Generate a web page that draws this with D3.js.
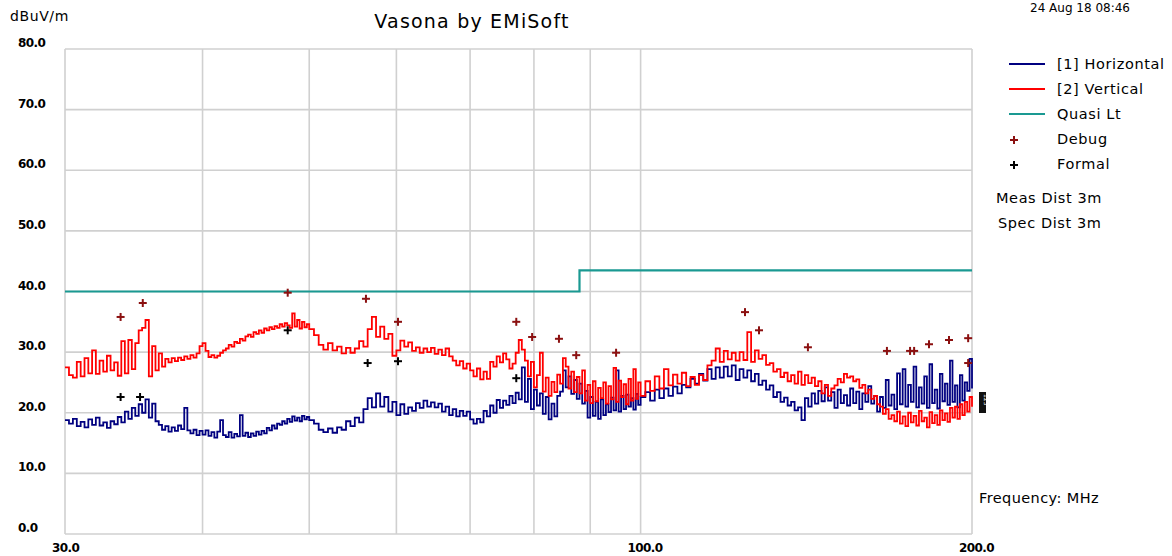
<!DOCTYPE html>
<html>
<head>
<meta charset="utf-8">
<script src="https://cdn.jsdelivr.net/npm/d3@7"></script>
<style>
  body { margin: 0; background: #fff; }
  svg text { font-family: "DejaVu Sans", "Liberation Sans", sans-serif; fill: #000; }
</style>
</head>
<body>
<svg id="chart" width="1172" height="556"></svg>
<script>
// sweep: 30-50 MHz every 0.25, 50.5-100 every 0.5, 101-200 every 1
const sweep = [
  { start: 30, step: 0.25 },
  { start: 50.5, step: 0.5 },
  { start: 101, step: 1 }
];

// [1] Horizontal, dBuV/m
const hLow = [18.8,18.2,19.0,17.8,18.5,17.6,18.9,18.0,19.2,17.9,18.4,17.5,18.6,18.1,19.3,18.4,20.2,19.0,20.8,19.5,
  21.4,20.0,22.2,19.2,21.5,18.6,18.0,17.2,17.8,16.9,17.6,17.0,17.9,17.3,20.8,17.1,16.6,17.2,16.3,17.0,
  16.4,17.1,16.2,16.8,15.9,16.9,18.8,16.3,16.0,16.8,15.9,16.5,16.1,19.6,16.2,16.7,16.0,16.6,16.2,16.9,
  16.4,17.0,16.6,17.5,17.1,17.9,17.4,18.2,18.0,18.6,18.2,19.0,18.5,19.4,18.7,19.2,18.6,19.5,18.9,19.3,18.8];
const hMid = [18.2,17.2,16.8,17.4,16.7,17.6,17.2,18.6,17.8,19.2,18.4,20.6,22.4,20.9,23.2,21.0,22.6,20.2,21.8,19.6,
  21.4,19.8,20.9,20.3,21.6,20.8,22.0,21.0,21.7,20.9,21.5,20.2,21.0,19.6,20.6,19.4,20.3,19.5,20.2,18.9,
  18.2,19.0,18.4,20.3,19.4,21.2,20.0,22.1,20.8,22.0,21.3,22.8,21.6,23.3,22.2,27.5,21.8,25.6,20.6,23.8,
  21.2,23.2,19.8,22.6,18.9,21.5,19.4,22.8,23.5,27.0,24.2,26.0,23.1,25.4,22.3,24.8,21.5,23.6,19.2,22.6,
  19.5,21.8,19.0,22.2,19.6,21.4,20.1,22.5,20.4,27.0,20.2,22.8,20.6,23.0,21.0,22.4,20.5,23.1,21.3,22.6];
const hHigh = [23.4,22.0,23.8,22.4,24.0,22.8,24.3,23.2,24.6,24.2,25.6,24.8,26.4,25.3,27.2,25.6,27.5,25.8,27.6,26.0,
  27.8,25.4,27.2,25.8,27.0,25.2,26.4,24.6,25.3,23.8,24.5,22.6,23.4,21.8,22.5,21.2,21.8,20.4,20.9,18.8,
  22.4,21.0,23.2,21.5,23.6,21.9,24.2,22.0,23.4,20.8,23.8,21.6,22.9,21.2,24.0,21.6,23.5,20.6,23.2,21.8,
  24.4,21.5,22.8,20.2,22.6,20.8,25.4,21.2,23.0,20.6,26.5,21.4,27.2,21.0,24.6,21.8,27.6,20.9,24.2,21.5,
  26.0,20.8,28.0,21.6,23.8,20.7,26.4,21.9,24.8,21.3,28.6,21.8,24.5,20.9,26.2,22.0,25.0,23.6,28.9,24.0];

// [2] Vertical, dBuV/m
const vLow = [27.5,26.2,25.8,28.4,26.0,29.0,26.5,30.3,26.4,28.6,26.8,29.4,27.0,28.3,26.1,31.8,26.5,32.0,27.2,31.5,
  33.6,34.0,35.3,26.0,31.0,27.0,29.8,27.6,28.9,28.3,29.0,28.5,29.1,28.7,29.3,28.9,29.5,29.1,29.8,31.0,
  31.5,30.2,29.2,29.5,29.1,29.4,29.9,30.3,30.6,31.2,30.9,31.7,31.5,32.2,31.9,32.6,32.9,32.5,33.3,33.0,
  33.6,33.2,33.9,33.6,34.1,33.8,34.3,34.0,34.6,34.2,34.8,34.4,34.0,36.4,34.2,35.3,33.9,35.0,34.1,34.6,33.8];
const vMid = [32.8,31.2,30.4,31.5,30.3,30.9,29.8,30.7,29.9,30.6,31.8,30.9,33.8,35.8,32.5,34.2,32.2,33.0,29.4,30.3,
  31.9,30.9,31.6,30.2,30.8,29.9,30.6,30.0,30.7,29.7,30.4,29.5,30.6,29.3,28.6,27.8,28.5,27.3,28.1,27.0,
  26.0,27.3,25.5,26.8,25.6,28.4,27.6,29.3,28.3,29.8,28.8,27.3,28.1,29.9,32.0,30.4,28.6,26.0,28.4,24.2,
  26.2,29.9,23.5,25.8,22.8,25.1,23.4,26.3,24.8,29.0,27.6,24.0,26.8,23.4,25.9,23.2,27.0,22.0,24.6,21.6,
  25.2,21.9,24.1,22.4,25.0,21.5,24.4,22.2,27.4,21.8,25.3,22.6,24.7,21.4,25.6,22.0,27.2,22.3,25.0,22.8];
const vHigh = [25.2,23.6,26.0,24.0,27.2,24.5,26.3,24.8,26.6,24.4,25.9,24.6,26.2,25.4,27.8,28.6,30.6,28.4,30.2,28.8,
  29.9,28.6,30.0,28.7,33.3,28.4,30.3,28.9,29.5,27.9,28.2,26.8,27.2,25.9,26.6,25.2,26.2,24.8,26.8,24.6,
  26.2,24.9,25.8,24.4,25.2,23.2,24.6,22.8,24.0,24.5,25.6,25.0,26.4,25.8,26.0,25.2,25.5,24.1,24.6,23.2,
  23.8,22.3,22.8,21.4,21.0,19.8,20.6,19.0,19.6,18.6,20.2,18.2,19.4,17.8,20.0,18.4,19.5,17.9,20.3,18.6,
  19.2,17.6,20.1,18.3,19.6,18.0,20.4,18.8,19.9,18.5,20.8,19.2,21.0,19.0,21.4,19.6,21.8,20.2,22.6,21.0];

// quasi-peak limit (FCC B, 3m)
const limitFreq = [30, 88, 88, 200];
const limitVals = [40, 40, 43.5, 43.5];

// measured points [MHz, dBuV/m]
const debugPts = [[33.7,35.8],[35.3,38.1],[47.8,39.8],[56.3,38.8],[60.2,35.0],[77.1,35.0],[79.7,32.5],
  [84.3,32.2],[87.4,29.5],[95.0,29.9],[124.4,36.6],[128.1,33.6],[141.9,30.8],[167.4,30.2],[175.7,30.2],
  [177.2,30.2],[182.8,31.3],[190.6,32.0],[198.4,32.3],[198.4,28.2]];
const formalPts = [[33.7,22.6],[35.1,22.6],[47.8,33.6],[56.5,28.2],[60.2,28.5],[77.1,25.7]];

const xTicks = [30, 100, 200];
const xGrid = [30, 40, 50, 60, 70, 80, 90, 100, 200];
const yTicks = [0, 10, 20, 30, 40, 50, 60, 70, 80];

const legendItems = [
  { label: "[1] Horizontal", color: "#000080", type: "line" },
  { label: "[2] Vertical", color: "#ff0000", type: "line" },
  { label: "Quasi Lt", color: "#1a9992", type: "line" },
  { label: "Debug", color: "#8b1010", type: "plus" },
  { label: "Formal", color: "#000000", type: "plus" }
];

function toPoints(parts) {
  var pts = [];
  parts.forEach(function(vals, k) {
    vals.forEach(function(v, i) {
      pts.push([sweep[k].start + i * sweep[k].step, v]);
    });
  });
  return pts;
}

var horiz = toPoints([hLow, hMid, hHigh]);
var vert = toPoints([vLow, vMid, vHigh]);

var svg = d3.select("#chart");

var x = d3.scaleLog().domain([30, 200]).range([65, 972]);
var y = d3.scaleLinear().domain([0, 80]).range([534, 49]);

// grid
svg.append("g").selectAll("line").data(xGrid).join("line")
  .attr("x1", d => x(d)).attr("x2", d => x(d))
  .attr("y1", y(0)).attr("y2", y(80))
  .attr("stroke", "#d0d0d0").attr("stroke-width", 1.6);
svg.append("g").selectAll("line").data(yTicks).join("line")
  .attr("x1", x(30)).attr("x2", x(200))
  .attr("y1", d => y(d)).attr("y2", d => y(d))
  .attr("stroke", "#d0d0d0").attr("stroke-width", 1.6);

// tick labels
svg.append("g").selectAll("text").data(yTicks).join("text")
  .attr("x", 18).attr("y", d => y(d) - 2)
  .style("font-size", "12px").style("font-weight", "bold").style("letter-spacing", "-0.6px")
  .text(d => d.toFixed(1));
svg.append("g").selectAll("text").data(xTicks).join("text")
  .attr("x", d => x(d) - 13).attr("y", 552)
  .style("font-size", "12px").style("font-weight", "bold").style("letter-spacing", "-0.6px")
  .text(d => d.toFixed(1));

// traces
var line = d3.line().x(d => x(d[0])).y(d => y(d[1])).curve(d3.curveStepAfter);
svg.append("path").datum(horiz)
  .attr("fill", "none").attr("stroke", "#000080").attr("stroke-width", 1.8)
  .attr("d", line);
svg.append("path").datum(vert)
  .attr("fill", "none").attr("stroke", "#ff0000").attr("stroke-width", 1.8)
  .attr("d", line);

var limitLine = d3.line().x(d => x(d[0])).y(d => y(d[1]));
svg.append("path").datum(limitFreq.map((f, i) => [f, limitVals[i]]))
  .attr("fill", "none").attr("stroke", "#1a9992").attr("stroke-width", 2.2)
  .attr("d", limitLine);

// markers
function plus(sel, color) {
  sel.append("line").attr("x1", -4).attr("x2", 4).attr("y1", 0).attr("y2", 0)
    .attr("stroke", color).attr("stroke-width", 2);
  sel.append("line").attr("x1", 0).attr("x2", 0).attr("y1", -4).attr("y2", 4)
    .attr("stroke", color).attr("stroke-width", 2);
}
svg.append("g").selectAll("g").data(debugPts).join("g")
  .attr("transform", d => "translate(" + x(d[0]) + "," + y(d[1]) + ")")
  .call(plus, "#8b1010");
svg.append("g").selectAll("g").data(formalPts).join("g")
  .attr("transform", d => "translate(" + x(d[0]) + "," + y(d[1]) + ")")
  .call(plus, "#000000");

// little trace id box at the right edge
svg.append("rect").attr("x", 979).attr("y", 392).attr("width", 7).attr("height", 21).attr("fill", "#111");
svg.append("text").attr("transform", "translate(984,394) rotate(90)")
  .style("font-size", "6px").style("fill", "#fff").text("123");

// titles
svg.append("text").attr("x", 10).attr("y", 21).style("font-size", "14px").style("letter-spacing", "0.6px").text("dBuV/m");
svg.append("text").attr("x", 472).attr("y", 28).attr("text-anchor", "middle")
  .style("font-size", "19px").style("letter-spacing", "1.2px").text("Vasona by EMiSoft");
svg.append("text").attr("x", 1030).attr("y", 12).style("font-size", "12px").text("24 Aug 18 08:46");

// legend
var lg = svg.append("g").selectAll("g").data(legendItems).join("g")
  .attr("transform", (d, i) => "translate(0," + (64 + i * 25) + ")");
lg.filter(d => d.type == "line").append("line")
  .attr("x1", 1009).attr("x2", 1045).attr("y1", 0).attr("y2", 0)
  .attr("stroke", d => d.color).attr("stroke-width", 2);
lg.filter(d => d.type == "plus").append("g")
  .attr("transform", "translate(1014,1)")
  .each(function(d) { plus(d3.select(this), d.color); });
lg.append("text").attr("x", 1057).attr("y", 5).style("font-size", "14.5px").style("letter-spacing", "0.6px")
  .text(d => d.label);

svg.append("text").attr("x", 996).attr("y", 203).style("font-size", "14.5px").style("letter-spacing", "0.6px").text("Meas Dist 3m");
svg.append("text").attr("x", 998).attr("y", 228).style("font-size", "14.5px").style("letter-spacing", "0.6px").text("Spec Dist 3m");
svg.append("text").attr("x", 979).attr("y", 503).style("font-size", "14.5px").style("letter-spacing", "0.4px").text("Frequency: MHz");
</script>
</body>
</html>
